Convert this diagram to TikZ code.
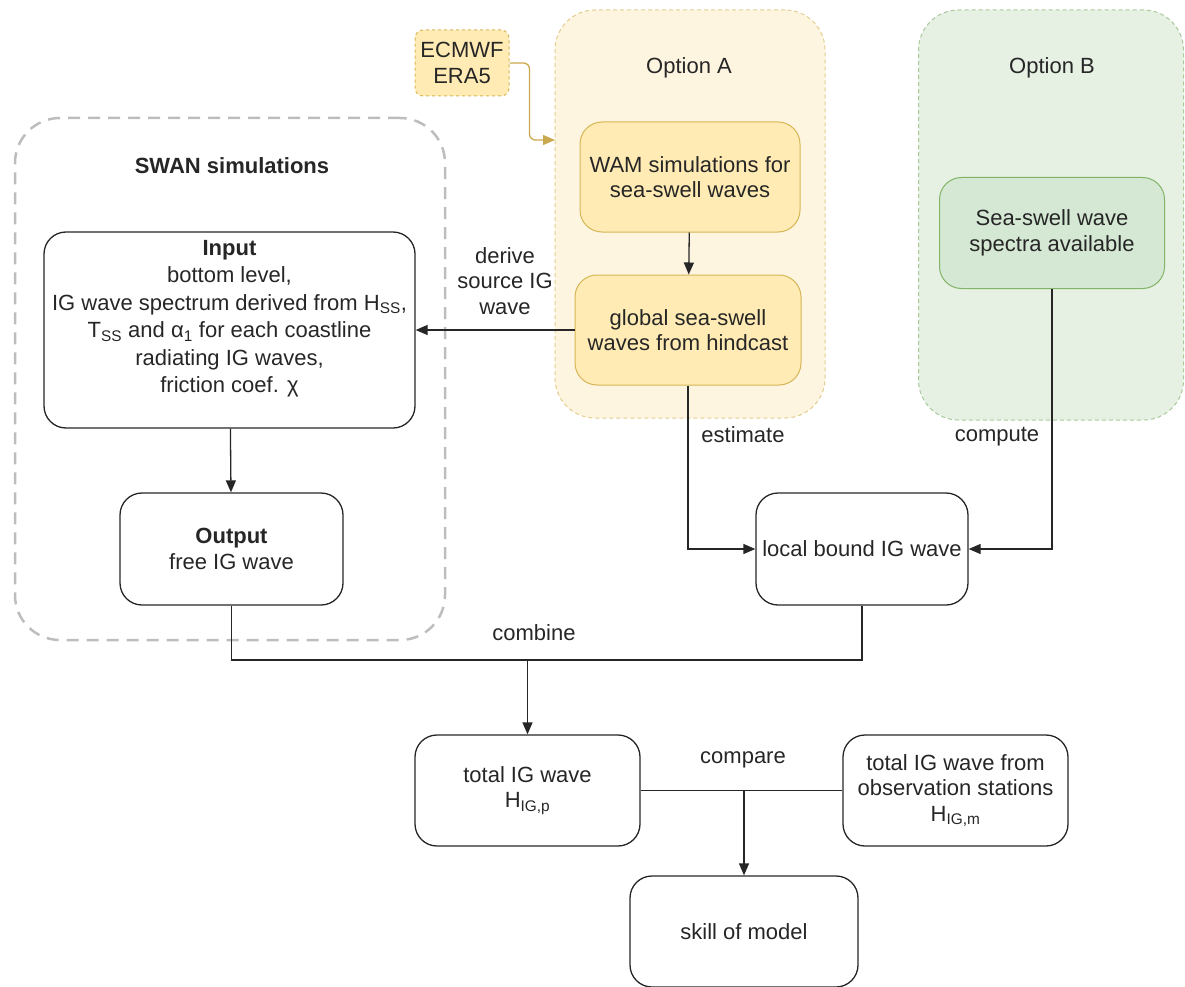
\documentclass[tikz,border=0pt]{standalone}
\usepackage{fontspec}
\setmainfont{Liberation Sans}
\usetikzlibrary{arrows.meta}
\definecolor{inkgrey}{HTML}{262626}
\definecolor{swangrey}{HTML}{BDBDBD}
\definecolor{optAfill}{HTML}{FEF5E1}
\definecolor{optAline}{HTML}{E3CD8E}
\definecolor{optAbox}{HTML}{FFEBB3}
\definecolor{goldline}{HTML}{D6B656}
\definecolor{goldarrow}{HTML}{C9A84E}
\definecolor{optBfill}{HTML}{E6F0E3}
\definecolor{optBline}{HTML}{A9C99B}
\definecolor{optBbox}{HTML}{D5E8D4}
\definecolor{greenline}{HTML}{82B366}
\tikzset{every node/.style={font=\fontsize{22}{25.5}\selectfont,text=inkgrey},
  group/.style={rounded corners=40pt,line width=1pt,dash pattern=on 4pt off 3pt,
    inner sep=0pt},
  swangroup/.style={draw=swangrey,line width=2.5pt,dash pattern=on 12pt off 8pt,
    rounded corners=45pt,inner sep=0pt},
  stepbox/.style={draw=inkgrey,line width=1.3pt,rounded corners=22pt,
    align=center,inner sep=2pt},
  ambox/.style={stepbox,draw=goldline,fill=optAbox,line width=1pt},
  bmbox/.style={stepbox,draw=greenline,fill=optBbox,line width=1pt},
  flow/.style={draw=inkgrey,line width=1.3pt,-{Triangle[length=12pt,width=10pt]}},
  link/.style={draw=inkgrey,line width=1.3pt},
  edgelabel/.style={align=center}}

\begin{document}
\begin{tikzpicture}[x=1pt,y=-1pt]
  \path[use as bounding box] (0,0) rectangle (1185,987);
  % groups
  \node[swangroup,minimum width=430pt,minimum height=522pt] (swan) at (230,379) {};
  \node[group,draw=optAline,fill=optAfill,minimum width=270pt,minimum height=408pt]
    (optA) at (690,214) {};
  \node[group,draw=optBline,fill=optBfill,minimum width=265pt,minimum height=410pt]
    (optB) at (1051,215) {};
  \node[font=\bfseries\fontsize{22}{25}\selectfont] (swantitle) at (232,166) {SWAN simulations};
  \node (optAtitle) at (689,68) {Option A};
  \node (optBtitle) at (1052,68) {Option B};
  % SWAN part
  \node[stepbox,minimum width=371pt,minimum height=196pt,
    font=\fontsize{22}{27.5}\selectfont] (input) at (229.5,330)
    {\textbf{Input}\\bottom level,\\IG wave spectrum derived from H\textsubscript{SS},\\
     T\textsubscript{SS} and α\textsubscript{1} for each coastline\\radiating IG waves,\\
     friction coef. χ\\\mbox{}};
  \node[stepbox,minimum width=223pt,minimum height=112pt] (output) at (231.5,549)
    {\textbf{Output}\\free IG wave};
  % option A
  \node[ambox,dashed,rounded corners=8pt,minimum width=94pt,minimum height=66pt]
    (era) at (462,63) {ECMWF\\ERA5};
  \node[ambox,minimum width=220pt,minimum height=110pt] (wam) at (690,177)
    {WAM simulations for\\sea-swell waves};
  \node[ambox,minimum width=226pt,minimum height=110pt] (global) at (688,330)
    {global sea-swell\\waves from hindcast};
  % option B
  \node[bmbox,minimum width=225pt,minimum height=111pt] (spectra) at (1052,233)
    {Sea-swell wave\\spectra available};
  % results
  \node[stepbox,minimum width=212pt,minimum height=112pt] (local) at (862,549)
    {local bound IG wave};
  \node[stepbox,minimum width=225pt,minimum height=111pt] (total) at (527.5,790.5)
    {total IG wave\\H\textsubscript{IG,p}};
  \node[stepbox,minimum width=225pt,minimum height=111pt] (obs) at (955.5,790.5)
    {total IG wave from\\observation stations\\H\textsubscript{IG,m}};
  \node[stepbox,minimum width=228pt,minimum height=111pt] (skill) at (744,931.5)
    {skill of model};

  \coordinate (eraIn) at (555,140);
  \draw[goldarrow,line width=1.3pt,rounded corners=6pt,
    -{Triangle[length=12pt,width=10pt]}] (era.east) -- ++(20,0) |- (eraIn);
  \draw[flow] (wam) -- (global);
  \draw[flow] (input) -- (output);
  \draw[flow] (global.west) -- (input.east);
  \draw[flow] (global.south) |- (local.west);
  \draw[flow] (spectra.south) |- (local.east);
  \coordinate (join) at (total.north |- 0,660);
  \draw[link] (output.south) |- (join) -| (local.south);
  \draw[flow] (join) -- (total.north);
  \draw[link] (total.east) -- (obs.west);
  \draw[flow] (skill.north |- total.east) -- (skill.north);

  \node[edgelabel] (derivelbl) at (505,281) {derive\\source IG\\wave};
  \node (estimatelbl) at (743,435) {estimate};
  \node (computelbl) at (997,437) {compute};
  \node (combinelbl) at (534,633) {combine};
  \node (comparelbl) at (743,760) {compare};
\end{tikzpicture}
\end{document}
